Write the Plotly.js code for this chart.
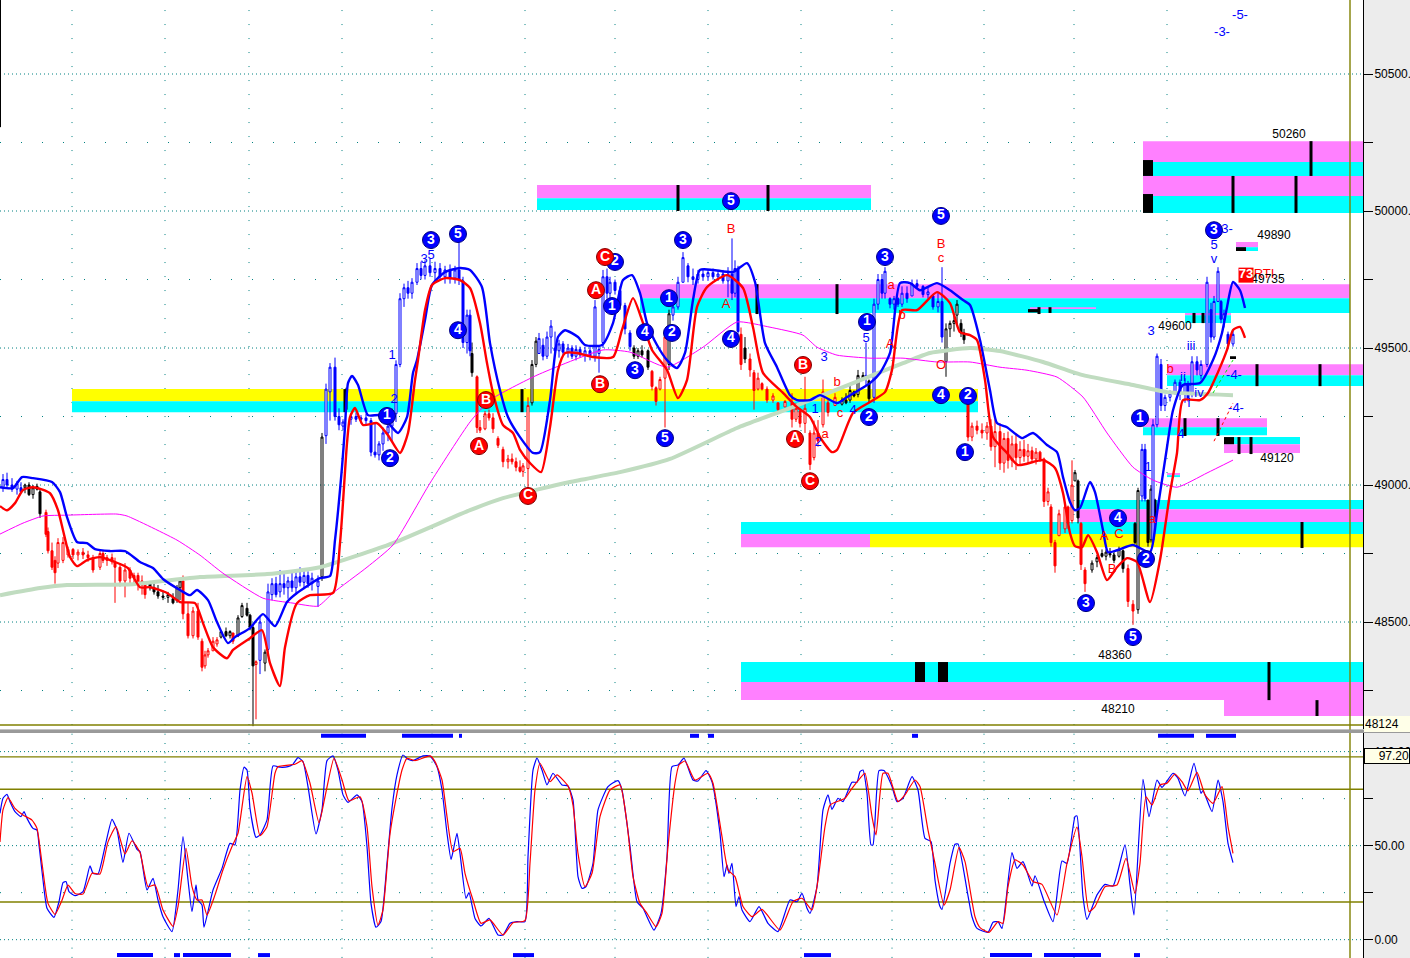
<!DOCTYPE html>
<html><head><meta charset="utf-8">
<script src="https://cdn.plot.ly/plotly-3.0.1.min.js"></script>
<style>html,body{margin:0;padding:0;background:#ececec;overflow:hidden}#c{width:1410px;height:958px}</style>
</head><body><div id="c"></div>
<script>
// [barPos, open, high, low, close]
const blueBars=[[3,48990,49040,48975,49020],[7,49020,49045,48990,49000],[12,49000,49025,48975,48985],[17,48985,49015,48965,49005],[21,48990,49010,48970,48975],
[260,48360,48520,48310,48500],[268,48400,48640,48390,48610],[272,48600,48660,48580,48640],[276,48640,48665,48590,48600],[280,48610,48690,48590,48640],[284,48640,48680,48600,48625],[288,48625,48665,48585,48650],[292,48650,48680,48610,48625],[296,48625,48690,48600,48665],[300,48665,48700,48630,48645],[304,48645,48695,48620,48670],[308,48670,48685,48625,48640],[312,48640,48680,48615,48660],[318,48630,48670,48555,48650],
[326,49180,49370,49150,49350],[330,49340,49445,49235,49430],[335,49430,49465,49235,49250],[339,49250,49280,49200,49220],[343,49215,49240,49200,49230],[351,49240,49260,49220,49250],[356,49250,49265,49230,49240],[361,49240,49255,49225,49245],[366,49245,49260,49220,49235],[371,49235,49245,49105,49120],[375,49120,49230,49100,49110],[379,49110,49160,49090,49150],[383,49150,49210,49125,49190],[388,49190,49225,49160,49215],[392,49215,49280,49160,49260],[396,49260,49455,49230,49440],[400,49440,49700,49430,49680],[404,49680,49735,49650,49720],[408,49720,49745,49680,49700],[412,49700,49755,49680,49740],[417,49740,49810,49730,49790],[421,49790,49815,49750,49765],[425,49765,49820,49750,49800],[430,49800,49825,49760,49775],[435,49775,49815,49740,49790],[440,49790,49810,49745,49760],[445,49760,49800,49735,49785],[450,49785,49805,49735,49755],[455,49755,49800,49735,49785],[459,49785,49895,49730,49750],[463,49745,49760,49500,49520],[467,49520,49640,49480,49620],[470,49620,49640,49470,49490],
[539,49480,49555,49480,49535],[543,49510,49535,49455,49470],[547,49470,49560,49460,49540],[551,49540,49602,49480,49580],[555,49500,49560,49480,49490],[559,49490,49530,49465,49515],[563,49515,49525,49475,49485],[568,49485,49515,49465,49500],[572,49500,49510,49460,49470],[576,49470,49510,49455,49495],[580,49495,49505,49465,49475],[585,49475,49505,49450,49490],[590,49490,49510,49455,49470],[595,49470,49675,49450,49650],[599,49480,49510,49410,49495],[603,49520,49785,49500,49760],[607,49760,49790,49680,49700],[610,49700,49760,49680,49740],[615,49740,49750,49695,49710],[620,49710,49725,49640,49655],[625,49655,49665,49550,49570],[630,49555,49565,49490,49505],
[673,49620,49665,49600,49650],[678,49650,49760,49640,49740],[683,49740,49850,49740,49830],[688,49800,49810,49740,49760],[693,49760,49790,49730,49750],[698,49750,49785,49735,49770],[703,49770,49790,49745,49760],[708,49760,49785,49745,49775],[713,49775,49790,49750,49760],[718,49760,49785,49745,49770],[723,49770,49785,49735,49745],[728,49745,49795,49685,49770],[732,49770,49900,49675,49700],[735,49700,49820,49685,49790],[738,49790,49800,49540,49560],
[866,49390,49520,49360,49400],[874,49320,49680,49300,49660],[878,49660,49770,49640,49750],[882,49750,49770,49680,49700],[885,49700,49795,49680,49780],[890,49680,49685,49645,49660],[894,49660,49690,49640,49680],[898,49680,49685,49650,49660],[902,49660,49725,49650,49700],[907,49700,49725,49665,49680],[912,49690,49750,49690,49735],[917,49735,49750,49715,49725],[923,49725,49730,49685,49695],[928,49695,49720,49680,49705],[933,49690,49695,49640,49650],[938,49650,49700,49630,49670],[942,49670,49795,49520,49540],
[1142,48960,49150,48940,49130],[1145,49130,49150,48940,48950],[1153,48800,49240,48790,49220],[1157,49220,49480,49210,49470],[1161,49440,49460,49270,49290],[1165,49290,49330,49270,49320],[1170,49320,49345,49305,49335],[1175,49335,49385,49330,49375],[1180,49375,49385,49310,49330],[1185,49330,49390,49300,49370],[1188,49370,49380,49305,49315],[1192,49330,49470,49320,49450],[1197,49450,49470,49400,49420],[1201,49400,49455,49385,49440],[1207,49440,49760,49430,49740],[1211,49640,49665,49520,49540],[1214,49540,49690,49530,49670],[1218,49670,49795,49670,49780],[1221,49670,49675,49590,49605],[1224,49605,49640,49575,49625],[1228,49550,49560,49500,49515],[1233,49515,49565,49505,49550]];
const blackBars=[[25,48990,49005,48970,49000],[29,49000,49010,48960,48965],[33,48965,49000,48950,48990],[37,48995,49005,48980,48985],[40,48975,48985,48880,48895],
[150,48640,48650,48615,48625],[154,48625,48640,48600,48610],[158,48610,48635,48585,48595],[163,48595,48615,48580,48590],[168,48590,48610,48570,48600],[173,48585,48605,48565,48570],[177,48580,48635,48570,48625],[180,48625,48660,48580,48650],
[221,48445,48470,48440,48465],[226,48465,48480,48445,48450],[230,48450,48470,48440,48465],[238,48450,48525,48445,48515],[242,48520,48570,48515,48560],[247,48550,48570,48520,48525],[250,48525,48530,48470,48480],[253,48480,48490,48120,48340],[265,48350,48400,48320,48390],[322,48665,49190,48650,49175],[346,49340,49355,49265,49275],
[472,49480,49520,49395,49410],[532,49300,49456,49290,49440],[536,49440,49540,49430,49525],[634,49500,49510,49460,49470],[638,49470,49500,49460,49490],[642,49490,49510,49465,49475],[648,49490,49495,49420,49430],[669,49440,49640,49420,49625],[745,49500,49540,49445,49460],
[842,49295,49320,49290,49310],[846,49310,49335,49295,49300],[850,49310,49370,49300,49345],[854,49340,49345,49320,49325],[858,49330,49420,49320,49400],[863,49400,49412,49385,49390],[869,49380,49385,49300,49315],
[946,49450,49590,49395,49570],[950,49570,49600,49540,49590],[954,49590,49620,49560,49600],[957,49620,49675,49580,49660],[961,49590,49605,49540,49555],[964,49555,49570,49515,49530],
[1075,49015,49055,49015,49045],[1078,49015,49020,48860,48880],[1092,48690,48725,48680,48715],[1097,48720,48745,48700,48735],[1102,48750,48765,48735,48740],[1106,48740,48765,48725,48755],[1110,48750,48770,48735,48745],[1114,48745,48755,48715,48725],[1119,48740,48775,48735,48765],[1123,48760,48765,48680,48695],[1135,48860,48865,48785,48790],[1138,48545,48990,48530,48980],[1148,48945,48945,48775,48790],[1151,48800,49000,48790,48985],[1155,48945,48950,48860,48880]];
const redBars=[[46,48900,48910,48810,48820],[48,48830,48845,48750,48760],[52,48760,48790,48690,48700],[55,48725,48740,48640,48680],[58,48715,48806,48697,48790],[63,48725,48810,48715,48790],[68,48745,48775,48735,48765],[73,48765,48770,48730,48745],[78,48745,48765,48725,48755],[83,48755,48770,48730,48745],[88,48745,48760,48720,48735],[93,48735,48745,48680,48690],[100,48700,48765,48690,48750],[103,48750,48760,48715,48725],[107,48725,48745,48705,48735],[112,48735,48750,48710,48720],[115,48720,48735,48570,48700],[120,48700,48715,48630,48650],[125,48650,48715,48590,48690],[130,48690,48700,48640,48660],[134,48660,48680,48640,48670],[138,48670,48680,48615,48635],[142,48635,48670,48600,48650],[145,48640,48645,48585,48600],
[183,48650,48670,48510,48530],[188,48530,48570,48440,48450],[193,48450,48555,48440,48540],[198,48540,48570,48435,48445],[202,48430,48440,48320,48335],[205,48340,48395,48330,48380],[208,48380,48405,48370,48395],[213,48395,48445,48395,48430],[217,48420,48445,48410,48435],[233,48460,48460,48420,48430],[256,48345,48360,48145,48355],
[477,49395,49400,49190,49210],[480,49210,49237,49190,49200],[485,49205,49270,49200,49260],[489,49260,49275,49235,49245],[493,49245,49262,49190,49205],[498,49170,49178,49135,49145],[503,49130,49140,49065,49085],[508,49085,49110,49060,49095],[512,49095,49115,49075,49085],[516,49085,49100,49050,49065],[520,49065,49090,49045,49050],[523,49050,49080,49030,49070],[528,49060,49320,48990,49290],
[652,49415,49420,49345,49360],[656,49355,49360,49290,49305],[660,49350,49395,49345,49385],[665,49390,49555,49210,49540],
[741,49550,49575,49420,49440],[750,49460,49480,49395,49420],[754,49410,49420,49275,49345],[758,49350,49410,49345,49390],[762,49370,49375,49345,49350],[767,49350,49360,49300,49310],[773,49310,49335,49300,49325],[778,49300,49300,49265,49275],[785,49285,49310,49285,49305],[792,49300,49335,49210,49240],[796,49240,49300,49230,49280],[800,49270,49280,49210,49225],[805,49225,49395,49190,49280],[810,49190,49200,49055,49075],[814,49100,49235,49090,49190],[818,49190,49237,49140,49160],[823,49220,49385,49210,49340],[828,49300,49310,49250,49265],[835,49290,49335,49290,49320],
[968,49300,49310,49160,49175],[972,49175,49228,49160,49215],[977,49215,49235,49185,49200],[982,49200,49225,49170,49190],[987,49190,49230,49165,49215],[991,49215,49240,49125,49140],[995,49140,49240,49065,49195],[1000,49195,49225,49055,49080],[1004,49080,49190,49045,49170],[1008,49170,49195,49060,49090],[1012,49090,49180,49065,49150],[1016,49150,49190,49055,49100],[1020,49100,49160,49070,49130],[1024,49130,49165,49085,49105],[1028,49105,49150,49080,49125],[1032,49125,49140,49080,49095],[1036,49095,49135,49075,49120],[1040,49120,49125,49085,49095],[1044,49095,49100,48920,48940],[1048,48940,48990,48925,48975],[1051,48920,48930,48775,48790],[1055,48790,48800,48680,48705],[1059,48815,48910,48815,48895],[1065,48840,48935,48825,48920],[1068,48920,48925,48840,48860],[1072,48870,49090,48860,49000],[1081,48860,48865,48690,48710],[1085,48690,48700,48610,48640],[1128,48695,48710,48555,48575],[1133,48565,48580,48490,48540]];

const upperBand=[[0,48992],[13,48989],[22,49029],[33,49025],[52,49011],[60,48974],[67,48883],[77,48792],[87,48788],[95,48766],[110,48759],[125,48759],[140,48719],[153,48697],[163,48657],[180,48617],[190,48598],[197,48617],[208,48580],[217,48500],[228,48423],[235,48445],[250,48478],[263,48529],[275,48485],[287,48573],[297,48606],[320,48660],[330,48668],[335,48799],[342,49065],[345,49211],[348,49372],[352,49398],[358,49365],[368,49255],[380,49255],[390,49219],[398,49190],[407,49248],[413,49409],[417,49456],[425,49602],[432,49730],[445,49777],[460,49792],[470,49785],[482,49722],[490,49518],[500,49346],[508,49248],[520,49175],[533,49117],[540,49120],[550,49310],[558,49540],[565,49565],[578,49540],[585,49511],[602,49511],[613,49591],[623,49748],[632,49766],[640,49700],[647,49591],[657,49511],[667,49456],[677,49427],[685,49482],[693,49675],[700,49785],[713,49785],[733,49777],[747,49810],[755,49741],[765,49518],[777,49430],[790,49328],[797,49310],[810,49310],[820,49328],[837,49299],[847,49321],[870,49372],[880,49409],[890,49482],[900,49737],[910,49737],[920,49711],[937,49737],[950,49711],[963,49675],[970,49657],[980,49529],[990,49346],[997,49226],[1007,49211],[1022,49171],[1033,49190],[1047,49146],[1057,49120],[1063,49029],[1070,48938],[1075,48908],[1080,48916],[1090,49011],[1095,48974],[1103,48835],[1108,48755],[1117,48762],[1133,48781],[1150,48755],[1157,48898],[1167,49138],[1173,49273],[1183,49365],[1200,49372],[1213,49456],[1222,49555],[1227,49649],[1233,49741],[1240,49711],[1245,49646]];
const lowerBand=[[0,48923],[7,48908],[15,48934],[23,48982],[33,48992],[50,48970],[58,48908],[63,48835],[70,48737],[77,48704],[87,48726],[100,48737],[115,48719],[128,48697],[140,48627],[150,48627],[167,48606],[180,48573],[195,48569],[203,48496],[213,48408],[227,48368],[233,48398],[250,48441],[262,48470],[270,48350],[280,48266],[285,48408],[297,48569],[310,48598],[333,48606],[340,48788],[347,49153],[350,49248],[355,49281],[363,49219],[377,49226],[388,49182],[400,49117],[408,49190],[415,49383],[418,49456],[425,49638],[432,49730],[445,49755],[460,49748],[470,49719],[480,49591],[487,49445],[493,49336],[503,49219],[513,49190],[520,49128],[530,49080],[541,49047],[550,49211],[558,49420],[565,49482],[577,49482],[593,49467],[613,49467],[622,49566],[633,49682],[642,49602],[652,49493],[667,49420],[678,49317],[687,49383],[697,49650],[707,49722],[727,49766],[743,49719],[753,49576],[763,49409],[783,49336],[797,49284],[810,49248],[820,49175],[832,49120],[837,49128],[853,49263],[870,49303],[885,49339],[892,49420],[902,49638],[917,49638],[937,49704],[950,49664],[960,49558],[970,49547],[977,49529],[985,49383],[993,49175],[1007,49117],[1018,49073],[1043,49091],[1055,49062],[1063,48971],[1070,48825],[1075,48777],[1082,48773],[1088,48817],[1097,48755],[1107,48653],[1117,48700],[1127,48733],[1137,48719],[1150,48573],[1160,48726],[1170,48971],[1177,49117],[1183,49310],[1200,49310],[1208,49336],[1218,49412],[1227,49493],[1233,49566],[1240,49577],[1245,49537]];
const magentaAvg=[[0,48821],[23,48861],[43,48887],[67,48890],[117,48894],[127,48887],[177,48799],[200,48744],[223,48678],[263,48587],[293,48569],[318,48558],[333,48606],[367,48700],[393,48781],[430,49007],[470,49230],[490,49310],[537,49401],[603,49493],[630,49485],[667,49430],[703,49503],[737,49595],[770,49576],[803,49547],[817,49503],[837,49474],[870,49463],[903,49463],[937,49449],[970,49449],[1000,49430],[1027,49419],[1057,49394],[1083,49321],[1107,49190],[1133,49065],[1153,49018],[1177,48992],[1207,49044],[1233,49091]];
const greenAvg=[[0,48598],[40,48624],[67,48635],[133,48638],[200,48664],[267,48675],[320,48700],[393,48788],[470,48908],[503,48952],[570,49011],[620,49047],[670,49095],[737,49208],[790,49281],[853,49372],[903,49445],[930,49482],[970,49500],[1000,49489],[1043,49449],[1083,49401],[1133,49365],[1167,49339],[1233,49328]];
const limeTrend=[[1213,49336],[1233,49456]];
const redTrend=[[1214,49160],[1233,49299]];

// zones: x0, x1, low, high, colour
const M='#ff80ff',C='#00ffff',Y='#ffff00',K='#000000';
const zones=[[537,871,50047,50095,M],[537,871,50004,50047,C],[640,1350,49682,49733,M],[640,1350,49628,49682,C],[72,978,49306,49350,Y],[72,978,49266,49306,C],
[1143,1363,50179,50255,M],[1143,1363,50128,50179,C],[1143,1363,50055,50128,M],[1143,1363,49993,50055,C],[1143,1153,50128,50186,K],[1143,1153,49993,50062,K],
[741,1363,48821,48865,C],[870,1363,48773,48821,Y],[741,870,48773,48821,M],[1078,1363,48912,48945,C],[1078,1363,48865,48912,M],
[741,1363,48281,48354,C],[741,1363,48215,48281,M],[1224,1363,48157,48215,M],[915,925,48281,48354,K],[938,948,48281,48354,K],
[1143,1267,49211,49244,M],[1143,1267,49182,49211,C],[1224,1300,49149,49175,C],[1224,1300,49117,49149,M],[1224,1234,49149,49175,K],
[1185,1231,49620,49628,M],[1185,1231,49591,49620,C],[1167,1363,49401,49441,M],[1167,1363,49361,49401,C],[1236,1258,49868,49887,M],[1236,1258,49854,49868,C],[1236,1246,49854,49868,K],
[1030,1096,49642,49649,M],[1028,1038,49630,49642,K],[1167,1180,49036,49044,M],[1167,1180,49029,49036,C],[1230,1236,49460,49470,K]];
// black vertical strokes
const strokeX=[678,768,757,837,1311,1233,1296,1269,1317,1302,1257,1320,1185,1218,1239,1251,1039,1050,1194,1203,522,345];
const strokeLow=[50000,50000,49624,49624,50128,49993,49993,48215,48157,48770,49361,49361,49179,49179,49113,49113,49624,49628,49591,49591,49266,49266];
const strokeHigh=[50095,50095,49733,49733,50255,50128,50128,48354,48215,48865,49441,49441,49244,49244,49175,49175,49649,49649,49628,49628,49350,49350];

const blueWaveX=[387,390,431,458,458,635,645,615,612,669,683,672,665,731,731,885,867,869,941,941,968,965,1086,1118,1146,1133,1140,1214];
const blueWaveY=[49252,49098,49894,49916,49565,49419,49558,49814,49653,49682,49894,49555,49171,50036,49533,49832,49595,49248,49982,49328,49325,49120,48569,48879,48730,48445,49244,49930];
const blueWaveT=['1','2','3','5','4','3','4','2','1','1','3','2','5','5','4','3','1','2','5','4','2','1','3','4','2','5','1','3'];
const redWaveX=[596,605,600,486,479,528,803,795,810];
const redWaveY=[49711,49832,49368,49310,49142,48960,49438,49168,49014];
const redWaveT=['A','C','B','B','A','C','B','A','C'];

const blueTextX=[424,431,392,394,824,866,815,818,853,1151,1214,1214,1191,1199,1189,1183,1148,1181,1222,1240,1234,1236,1227];
const blueTextY=[49821,49836,49471,49310,49463,49533,49273,49153,49270,49558,49872,49821,49503,49332,49295,49390,49062,49182,50650,50712,49398,49277,49930];
const blueTextT=['3','5','1','2','3','5','1','2','4','3','5','v','iii','iv','i','ii','1','4','-3-','-5-','-4-','-4-','3-'];
const redTextX=[731,726,941,941,890,891,902,941,837,840,825,1170,1104,1119,1112,1152,1264];
const redTextY=[49930,49657,49876,49825,49511,49726,49617,49434,49372,49259,49182,49419,48810,48817,48689,48872,49766];
const redTextT=['B','A','B','c','A','a','b','O','b','c','a','b','A','C','B','a','RTI'];
const priceTextX=[1289,1274,1268,1175,1277,1115,1118];
const priceTextY=[50277,49909,49748,49576,49095,48376,48178];
const priceTextT=['50260','49890','49735','49600','49120','48360','48210'];

const oscFast=[[0,67.2],[3,75.2],[7,77.3],[10,73.4],[15,68.1],[21,65.4],[24,68.1],[27,64.5],[33,59.2],[37,58.3],[39,50.4],[43,31.7],[47,16.7],[54,11.9],[59,20.2],[63,30.3],[66,30.9],[69,25.5],[75,23.4],[83,25.5],[90,39.2],[93,35.3],[98,34.9],[105,49.5],[112,64],[117,58.3],[123,41.1],[129,56.6],[137,48],[140,46.8],[147,26.4],[153,32.6],[158,21.1],[163,12.2],[172,4.3],[178,26.4],[183,54.8],[188,31.7],[192,14.9],[196,29.1],[198,21.1],[202,18.4],[204,6.6],[213,26.4],[222,37.9],[230,51.2],[235,50.4],[240,79.6],[244,91.7],[247,90.2],[250,69.9],[256,54.4],[260,55.7],[267,63.7],[273,92.4],[280,91.7],[288,92],[293,93.3],[298,96.8],[303,94.7],[308,81.4],[316,56.2],[322,69],[327,95.2],[333,97.7],[338,90.2],[343,77],[348,73],[357,77],[362,73.4],[367,49.5],[371,19.3],[376,6.6],[381,9.6],[387,40.6],[392,69.9],[397,87.6],[403,98.2],[408,95.9],[413,95.2],[423,97.7],
[430,97.7],[437,92],[442,79.6],[447,56.6],[451,42.7],[453,46.8],[457,56.6],[460,45.9],[466,22],[469,25],[475,11.3],[481,7.3],[489,11.3],[498,2.5],[503,2.5],[510,8.7],[517,9.6],[525,9.6],[528,44.1],[533,90.2],[537,96.5],[542,90.2],[547,82.3],[553,88.5],[562,82.3],[568,81.7],[573,74.3],[578,33.5],[582,27.3],[586,28.2],[593,40.6],[598,69],[608,81.4],[618,84.6],[622,79.6],[630,49.5],[637,20.2],[643,16.7],[654,5.1],[661,14],[667,44.1],[672,92],[678,92.9],[684,96.5],[693,84.9],[698,84.4],[706,89.9],[712,84],[720,56.6],[724,33.5],[727,39.7],[729,35.3],[732,40.6],[736,17.6],[739,22.9],[742,15.8],[750,9.6],[759,17.6],[768,8.7],[778,4.3],[790,21.1],[797,20.2],[802,24.6],[807,16.7],[810,14],[817,28.2],[823,69],[828,77],[832,69.3],[838,75.2],[843,73.4],[852,83.7],[857,83.7],
[860,89.4],[863,90.2],[867,77.8],[871,50.4],[873,50.4],[879,89.9],[884,89.9],[892,81.4],[897,73.4],[903,75.2],[912,86.7],[918,79.6],[925,53.9],[931,52.1],[935,31.7],[940,17.6],[942,16.1],[950,40.6],[955,50.7],[958,50.9],[967,26.4],[972,12.2],[977,6],[988,3.9],[993,9.2],[998,9.6],[1002,6],[1012,46.3],[1017,37.9],[1023,41.5],[1032,28.5],[1035,34],[1044,20.6],[1053,9.6],[1062,41.8],[1067,40.6],[1075,65.4],[1077,65.8],[1083,22.9],[1087,10.8],[1097,23.8],[1105,29.4],[1113,28.5],[1125,50.4],[1130,29.1],[1134,13.1],[1143,85.3],[1149,65.4],[1157,84.9],[1162,81],[1173,88.5],[1178,85.8],[1185,76.4],[1194,93.8],[1201,77.8],[1203,79.3],[1212,68.1],[1218,84.9],[1223,73.4],[1228,51.2],[1233,41]];
const oscSlow=[[0,52],[3,69],[8,75.5],[15,69.8],[23,66.3],[32,63.6],[37,59.2],[42,40.6],[48,19.3],[55,13.5],[62,21],[68,29],[75,24.6],[83,24.3],[92,35.3],[100,34.9],[108,52],[116,60.1],[125,45.6],[132,52.6],[140,46.3],[148,28.2],[155,29.1],[163,15.8],[173,7.1],[178,17.6],[186,48.6],[192,28.2],[197,21.1],[202,21.1],[207,13.1],[215,23.8],[223,37.2],[232,49.5],[238,56.6],[247,86.7],[252,78],[260,55.3],[267,60.1],[275,88.5],[278,92],[295,93.3],[302,95.2],[310,83.2],[319,62.2],[325,76],[334,96.4],[342,85],[349,73.8],[360,76],[367,60.1],[372,28.2],[378,7.8],[383,15.8],[390,56.2],[397,77.8],[402,90.2],[407,96.4],[415,95.2],[430,97.7],
[435,94.7],[442,84.9],[447,65.4],[453,46.8],[460,48.6],[465,35.3],[473,21.1],[481,8.7],[490,10.5],[503,2.5],[513,9],[525,10.1],[530,40.6],[535,79.6],[540,93.8],[550,84],[557,87.6],[568,81.7],[573,71.6],[578,45.9],[585,28.2],[592,35.3],[600,65.4],[610,79.6],[620,82.3],[627,61.9],[633,33.5],[640,19.3],[647,14],[656,6.9],[662,14],[668,49.5],[675,83.2],[679,92.9],[685,95],[695,84.9],[708,88.5],[713,83.2],[722,54.8],[728,37.1],[735,33.5],[743,17.6],[752,12.2],[762,16.1],[780,5.1],[793,20.2],[802,22],[812,15.8],[818,31.7],[825,60.1],[830,71.6],[845,75.2],[852,80.5],
[860,85.8],[865,88.5],[872,65.4],[876,55.7],[883,88.5],[888,88.5],[898,73.4],[905,77],[915,84.9],[920,81.4],[928,58.3],[935,40.6],[944,18.4],[950,26.4],[959,49.1],[965,41.5],[975,12.2],[980,6.4],[989,3.9],[998,9.6],[1003,8.7],[1008,28.2],[1015,42.4],[1023,39.7],[1033,30.9],[1042,29.4],[1057,13.1],[1067,40.6],[1077,59.8],[1082,44.1],[1089,14.9],[1095,17.6],[1105,28.2],[1117,29.1],[1126,43.3],[1135,24.6],[1140,40.6],[1146,76],[1152,71.6],[1160,82.3],[1167,83.2],[1175,88.1],[1182,84],[1188,79.1],[1197,89],[1205,77],[1213,72.5],[1222,81.4],[1228,60.1],[1233,45.9]];
const topSignals=[[321,366],[402,453],[459,462],[690,699],[708,714],[912,918],[1158,1194],[1206,1236]];
const bottomSignals=[[117,153],[174,180],[183,231],[258,270],[513,534],[804,831],[990,1032],[1044,1101],[1134,1140]];
const verticalGrid=[72,165,249,342,432,525,615,708,801,892,984,1074,1167];
const majorLevels=[50500,50000,49500,49000,48500];
const minorLevels=[50250,49750,49250,48750,48250];
const priceTicks=[50500,50250,50000,49750,49500,49250,49000,48750,48500,48250];
const priceTickText=['50500.','','50000.','','49500.','','49000.','','48500.',''];
const oscTicks=[100,75,50,25,0];
const oscTickText=['100.00','','50.00','','0.00'];
const oscLevels=[97.2,80,20];

const FONT='"Liberation Sans",Arial,sans-serif';
const W=1410,H=958;
const xs=a=>a.map(p=>p[0]), ys=a=>a.map(p=>p[1]);
const col=(a,i)=>a.map(r=>r[i]);
function candle(rows,color){return {type:'candlestick',xaxis:'x',yaxis:'y',x:col(rows,0),open:col(rows,1),high:col(rows,2),low:col(rows,3),close:col(rows,4),
 whiskerwidth:0,increasing:{line:{color:color,width:1},fillcolor:'#ffffff'},decreasing:{line:{color:color,width:1},fillcolor:color},hoverinfo:'skip',showlegend:false};}
function line(pts,color,width,xa,ya,dash,smooth){return {type:'scatter',mode:'lines',x:xs(pts),y:ys(pts),xaxis:xa||'x',yaxis:ya||'y',line:{color:color,width:width,dash:dash||'solid',shape:smooth?'spline':'linear',smoothing:smooth||0},hoverinfo:'skip',showlegend:false};}
function textTrace(x,y,t,color,size,bold){return {type:'scatter',mode:'text',x:x,y:y,text:t,textposition:'middle center',textfont:{family:FONT,size:size,color:color,weight:bold?700:400},xaxis:'x',yaxis:'y',hoverinfo:'skip',showlegend:false,cliponaxis:false};}
function wave(x,y,t,fill,edge){return {type:'scatter',mode:'markers+text',x:x,y:y,text:t,textposition:'middle center',textfont:{family:FONT,size:14,color:'#ffffff',weight:700},marker:{size:17,color:fill,line:{color:edge,width:1}},xaxis:'x',yaxis:'y',hoverinfo:'skip',showlegend:false};}
function segments(rows,level){const x=[],y=[];rows.forEach(r=>{x.push(r[0],r[1],null);y.push(level,level,null);});return {type:'scatter',mode:'lines',x:x,y:y,xaxis:'x2',yaxis:'y2',line:{color:'#0000ff',width:4},hoverinfo:'skip',showlegend:false};}
const sx=[],sy=[];strokeX.forEach((v,i)=>{sx.push(v,v,null);sy.push(strokeLow[i],strokeHigh[i],null);});

const traces=[
 line(greenAvg,'#c0dcc0',4,'x','y','solid',0.5),
 line(magentaAvg,'#ff00ff',1,'x','y','solid',0.5),
 {type:'scatter',mode:'lines',x:sx,y:sy,xaxis:'x',yaxis:'y',line:{color:'#000',width:3},hoverinfo:'skip',showlegend:false},
 candle(redBars,'#ff0000'),candle(blackBars,'#000000'),candle(blueBars,'#0000ff'),
 line(upperBand,'#0000ff',2.4,'x','y','solid',0.6),line(lowerBand,'#ff0000',2.4,'x','y','solid',0.6),
 line(limeTrend,'#00e000',1,'x','y','dot'),line(redTrend,'#ff0000',1,'x','y','dot'),
 textTrace(blueTextX,blueTextY,blueTextT,'#0000ff',13),
 textTrace(redTextX,redTextY,redTextT,'#ff0000',13),
 textTrace(priceTextX,priceTextY,priceTextT,'#000000',12),
 wave(blueWaveX,blueWaveY,blueWaveT,'#0000ff','#000080'),
 wave(redWaveX,redWaveY,redWaveT,'#ff0000','#800000'),
 {type:'scatter',mode:'markers+text',x:[1246],y:[49766],text:['73'],textposition:'middle center',textfont:{family:FONT,size:13,color:'#fff',weight:700},marker:{symbol:'square',size:15,color:'#ff0000'},xaxis:'x',yaxis:'y',hoverinfo:'skip',showlegend:false},
 line(oscFast,'#0000ff',1.2,'x2','y2','solid',0.5),line(oscSlow,'#ff0000',1.2,'x2','y2','solid',0.5),
 segments(topSignals,108.4),segments(bottomSignals,-8.2)
];

const shapes=[];
const TEAL='#008080';
majorLevels.forEach(v=>shapes.push({type:'line',layer:'below',xref:'x',yref:'y',x0:0,x1:1363,y0:v,y1:v,line:{color:TEAL,width:1,dash:'1px,3px'}}));
minorLevels.forEach(v=>shapes.push({type:'line',layer:'below',xref:'x',yref:'y',x0:0,x1:1363,y0:v,y1:v,line:{color:TEAL,width:1,dash:'1px,20px'}}));
verticalGrid.forEach(v=>{shapes.push({type:'line',layer:'below',xref:'x',yref:'y',x0:v,x1:v,y0:48124,y1:50770,line:{color:TEAL,width:1,dash:'1px,13px'}});
 shapes.push({type:'line',layer:'below',xref:'x2',yref:'y2',x0:v,x1:v,y0:-9.7,y1:109.9,line:{color:TEAL,width:1,dash:'1px,8.3px'}});});
[100,50,0].forEach(v=>shapes.push({type:'line',layer:'below',xref:'x2',yref:'y2',x0:0,x1:1363,y0:v,y1:v,line:{color:TEAL,width:1,dash:'1px,3px'}}));
[75,25].forEach(v=>shapes.push({type:'line',layer:'below',xref:'x2',yref:'y2',x0:0,x1:1363,y0:v,y1:v,line:{color:TEAL,width:1,dash:'1px,20px'}}));
zones.forEach(z=>shapes.push({type:'rect',layer:'below',xref:'x',yref:'y',x0:z[0],x1:z[1],y0:z[2],y1:z[3],fillcolor:z[4],line:{width:0}}));
oscLevels.forEach(v=>shapes.push({type:'line',layer:'below',xref:'x2',yref:'y2',x0:0,x1:1363,y0:v,y1:v,line:{color:'#808000',width:1.4}}));
shapes.push({type:'line',layer:'above',xref:'x',yref:'y',x0:0,x1:1363,y0:48124,y1:48124,line:{color:'#808000',width:1.4}});
shapes.push({type:'line',layer:'above',xref:'x',yref:'paper',x0:1350,x1:1350,y0:0,y1:1,line:{color:'#808000',width:1.4}});
shapes.push({type:'line',layer:'above',xref:'x',yref:'y',x0:0.5,x1:0.5,y0:50306,y1:50770,line:{color:'#000',width:1}});
shapes.push({type:'rect',layer:'above',xref:'paper',yref:'paper',x0:0,x1:1,y0:(H-733)/H,y1:(H-729.5)/H,fillcolor:'#9a9a9a',line:{width:0}});

const axisFont={family:FONT,size:12,color:'#000'};
const layout={width:W,height:H,margin:{l:0,r:0,t:0,b:0,pad:0},paper_bgcolor:'#ececec',plot_bgcolor:'#ffffff',showlegend:false,hovermode:false,boxgap:0,boxgroupgap:0,boxmode:'overlay',
 xaxis:{domain:[0,1363/W],range:[0,1363],showgrid:false,zeroline:false,showticklabels:false,ticks:'',rangeslider:{visible:false},fixedrange:true,anchor:'y'},
 xaxis2:{domain:[0,1363/W],range:[0,1363],showgrid:false,zeroline:false,showticklabels:false,ticks:'',fixedrange:true,anchor:'y2'},
 yaxis:{domain:[(H-729)/H,1],range:[48109.6,50770.1],side:'right',anchor:'x',tickmode:'array',tickvals:priceTicks,ticktext:priceTickText,ticks:'outside',ticklen:9,tickcolor:'#000',tickfont:axisFont,ticklabelstandoff:-1,showgrid:false,zeroline:false,showline:true,linecolor:'#000',linewidth:1,fixedrange:true},
 yaxis2:{domain:[0,(H-733)/H],range:[-9.75,109.9],side:'right',anchor:'x2',tickmode:'array',tickvals:oscTicks,ticktext:oscTickText,ticks:'outside',ticklen:9,tickcolor:'#000',tickfont:axisFont,ticklabelstandoff:-1,showgrid:false,zeroline:false,showline:true,linecolor:'#000',linewidth:1,fixedrange:true},
 shapes:shapes,
 annotations:[
  {xref:'paper',yref:'paper',x:1364/W,y:(H-724)/H,xanchor:'left',yanchor:'middle',text:'48124',showarrow:false,bgcolor:'#ffffe8',borderwidth:0,borderpad:1,font:{family:FONT,size:12,color:'#000'},width:44,align:'left'},
  {xref:'paper',yref:'paper',x:1364/W,y:(H-756)/H,xanchor:'left',yanchor:'middle',text:'97.20',showarrow:false,bgcolor:'#ffffe8',bordercolor:'#000',borderwidth:1,borderpad:0,font:{family:FONT,size:12,color:'#000'},width:44,align:'right'}
 ]};
Plotly.newPlot('c',traces,layout,{displayModeBar:false,staticPlot:true,responsive:false});
</script></body></html>
